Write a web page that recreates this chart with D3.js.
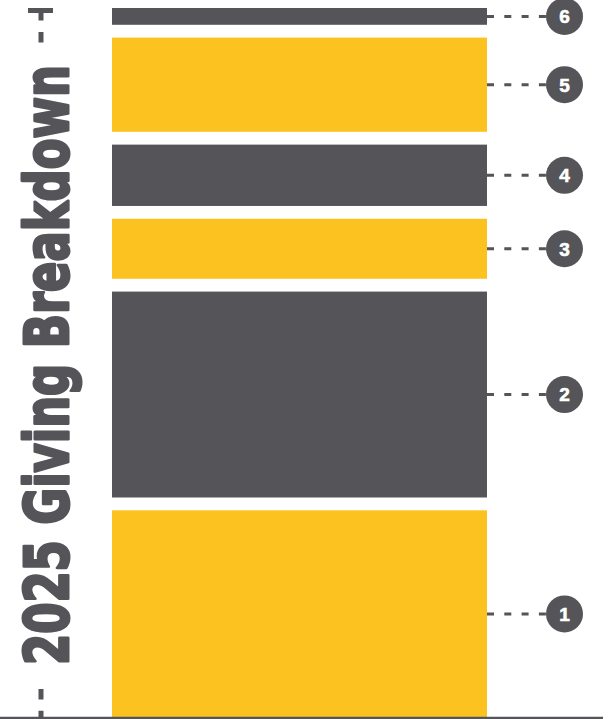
<!DOCTYPE html>
<html>
<head>
<meta charset="utf-8">
<script src="https://cdn.jsdelivr.net/npm/d3@7"></script>
<style>
  html, body { margin: 0; padding: 0; background: #fff; }
  svg { display: block; }
</style>
</head>
<body>
<div id="chart"></div>
<script>
// giving breakdown, share of total per category (bottom to top)
const categories = ["1", "2", "3", "4", "5", "6"];
const shares = [32.1, 31.9, 9.3, 9.5, 14.6, 2.6];
const title = "2025 Giving Breakdown";

let width = 609, height = 719;
let margin = {top: 8, bottom: 717.5, left: 112, right: 487};
let gap = 12.8;

let gray = "#545459";
let yellow = "#fcc320";
let color = d3.scaleOrdinal(categories, categories.map((d, i) => i % 2 == 0 ? yellow : gray));

let svg = d3.select("#chart").append("svg")
    .attr("width", width)
    .attr("height", height);

// height scale, gaps taken out of the available space
let h = d3.scaleLinear()
    .domain([0, d3.sum(shares)])
    .range([0, (margin.bottom - margin.top) - gap * (categories.length - 1)]);

let bars = [];
let acc = margin.bottom;
shares.forEach((v, i) => {
  let bh = h(v);
  bars.push({cat: categories[i], value: v, y: acc - bh, h: bh});
  acc = acc - bh - gap;
});

svg.append("g")
  .selectAll("rect")
  .data(bars)
  .join("rect")
    .attr("x", margin.left)
    .attr("width", margin.right - margin.left)
    .attr("y", d => d.y)
    .attr("height", d => d.h)
    .attr("fill", d => color(d.cat));

// connectors + numbered markers
let cx = 564.5, r = 18.5;
let marks = svg.append("g")
  .selectAll("g")
  .data(bars)
  .join("g")
    .attr("transform", d => `translate(0,${d.y + d.h / 2})`);

marks.append("line")
    .attr("x1", margin.right)
    .attr("x2", cx - r)
    .attr("stroke", gray)
    .attr("stroke-width", 3)
    .attr("stroke-dasharray", "7,10.3");

marks.append("circle")
    .attr("cx", cx)
    .attr("r", r)
    .attr("fill", gray);

marks.append("text")
    .attr("x", cx)
    .attr("dy", "0.36em")
    .attr("text-anchor", "middle")
    .attr("font-family", "'Liberation Sans', Arial, sans-serif")
    .attr("font-weight", "bold")
    .attr("font-size", 19)
    .attr("fill", "#fff")
    .attr("stroke", "#fff")
    .attr("stroke-width", 0.6)
    .text(d => d.cat);

// vertical dashed rule behind the title
let lx = 41;
svg.append("line")
    .attr("x1", lx).attr("x2", lx)
    .attr("y1", 10).attr("y2", 718)
    .attr("stroke", gray)
    .attr("stroke-width", 5)
    .attr("stroke-dasharray", "10.5,11.4");
svg.append("rect")
    .attr("x", 28).attr("y", 8)
    .attr("width", 25).attr("height", 5)
    .attr("fill", gray);
svg.append("rect")
    .attr("x", 15).attr("y", 53)
    .attr("width", 65).attr("height", 625)
    .attr("fill", "#fff");

// title: squeeze along its length so it fits between the dashes
let tg = svg.append("g");
let tt = tg.append("text")
    .attr("font-family", "'DejaVu Sans', sans-serif")
    .attr("font-weight", "bold")
    .attr("font-size", 60)
    .attr("fill", gray)
    .attr("stroke", gray)
    .attr("stroke-width", 3)
    .attr("stroke-linejoin", "round")
    .text(title);
let natural = tt.node().getComputedTextLength();
tg.attr("transform", `translate(68,665) rotate(-90) scale(${600 / natural},1)`);

// base line
svg.append("line")
    .attr("x1", 0).attr("x2", 603)
    .attr("y1", 718).attr("y2", 718)
    .attr("stroke", gray)
    .attr("stroke-width", 2.5);
</script>
</body>
</html>
